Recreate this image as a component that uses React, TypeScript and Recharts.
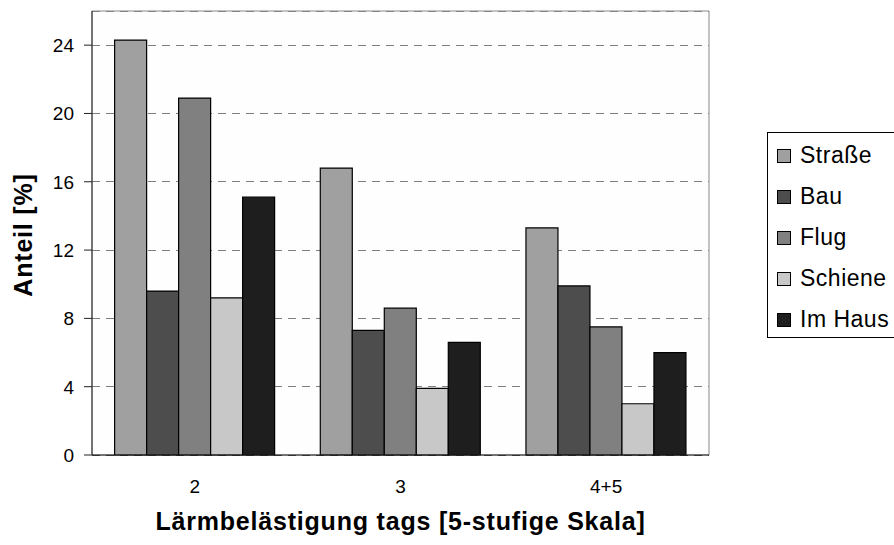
import React from 'react'
import { BarChart, Bar, XAxis, YAxis, CartesianGrid, ReferenceArea } from 'recharts'

const categories = ['2', '3', '4+5']
const strasse = [24.3, 16.8, 13.3]
const bau = [9.6, 7.3, 9.9]
const flug = [20.9, 8.6, 7.5]
const schiene = [9.2, 3.9, 3.0]
const imHaus = [15.1, 6.6, 6.0]
const yTicks = [0, 4, 8, 12, 16, 20, 24]

const series = [
  { key: 'strasse', name: 'Straße', color: '#a0a0a0', values: strasse },
  { key: 'bau', name: 'Bau', color: '#4d4d4d', values: bau },
  { key: 'flug', name: 'Flug', color: '#808080', values: flug },
  { key: 'schiene', name: 'Schiene', color: '#c8c8c8', values: schiene },
  { key: 'imHaus', name: 'Im Haus', color: '#1e1e1e', values: imHaus },
]

const data = categories.map((c, i) => {
  const row: any = { cat: c, idx: i + 0.5 }
  series.forEach(s => { row[s.key] = s.values[i] })
  return row
})

const font = '"Liberation Sans", Arial, sans-serif'

// legend sits right of the plot, clipped by the page edge like the original
function LegendBox() {
  return (
    <div
      style={{
        position: 'absolute', left: 767, top: 132, width: 160, height: 206,
        border: '1px solid #000', background: '#fff', boxSizing: 'border-box',
        padding: '2px 0 0 9px', fontFamily: font, fontSize: 23, letterSpacing: 0.5, color: '#000',
      }}
    >
      {series.map(s => (
        <div key={s.key} style={{ display: 'flex', alignItems: 'center', height: 41 }}>
          <div style={{ width: 12, height: 12, background: s.color, border: '1px solid #000', marginRight: 9, flexShrink: 0 }} />
          <span style={{ whiteSpace: 'nowrap' }}>{s.name}</span>
        </div>
      ))}
    </div>
  )
}

const YTick = (p: any) => (
  <text x={p.x} y={p.y} dy={7} textAnchor="end" fontFamily={font} fontSize={19} fill="#000">
    {p.payload.value}
  </text>
)

const XTick = (p: any) => (
  <text x={p.x} y={p.y} dy={14} textAnchor="middle" fontFamily={font} fontSize={19} fill="#000">
    {p.payload.value}
  </text>
)

export default function App() {
  return (
    <div style={{ position: 'absolute', left: 0, top: 0, width: 894, height: 545, background: '#fff', overflow: 'hidden' }}>
      <BarChart
        width={894}
        height={545}
        data={data}
        margin={{ top: 11, right: 185, left: 0, bottom: 0 }}
        barCategoryGap="11%"
        barGap={0}
      >
        <ReferenceArea y1={0} y2={26} fill="#fdfdfd" stroke="#888" strokeWidth={1} ifOverflow="extendDomain" />
        <CartesianGrid vertical={false} stroke="#000" strokeDasharray="8 6" shapeRendering="crispEdges" />
        <XAxis
          dataKey="cat"
          height={90}
          tickLine={false}
          axisLine={{ stroke: '#222' }}
          tickSize={0}
          tickMargin={24}
          tick={XTick}
          label={(props: any) => {
            const vb = props.viewBox
            return (
              <text x={vb.x + vb.width / 2} y={530} textAnchor="middle" fontFamily={font} fontSize={25} letterSpacing={0.8} fontWeight="bold" fill="#000">
                Lärmbelästigung tags [5-stufige Skala]
              </text>
            )
          }}
        />
        <XAxis
          xAxisId="edges"
          type="number"
          dataKey="idx"
          domain={[0, 3]}
          ticks={[0, 1, 2, 3]}
          height={0}
          tick={false}
          axisLine={false}
          tickSize={7}
          tickLine={{ stroke: '#222' }}
        />
        <YAxis
          width={92}
          domain={[0, 26]}
          ticks={yTicks}
          interval={0}
          tickSize={8}
          tickMargin={10}
          axisLine={{ stroke: '#222' }}
          tickLine={{ stroke: '#222' }}
          tick={YTick}
          label={() => {
            const cx = 32
            const cy = 235
            return (
              <text x={cx} y={cy} transform={`rotate(-90 ${cx} ${cy})`} textAnchor="middle" fontFamily={font} fontSize={25} letterSpacing={0.8} fontWeight="bold" fill="#000">
                Anteil [%]
              </text>
            )
          }}
        />
        {series.map(s => (
          <Bar key={s.key} dataKey={s.key} name={s.name} fill={s.color} stroke="#000" strokeWidth={1.2} isAnimationActive={false} />
        ))}
      </BarChart>
      <LegendBox />
    </div>
  )
}
